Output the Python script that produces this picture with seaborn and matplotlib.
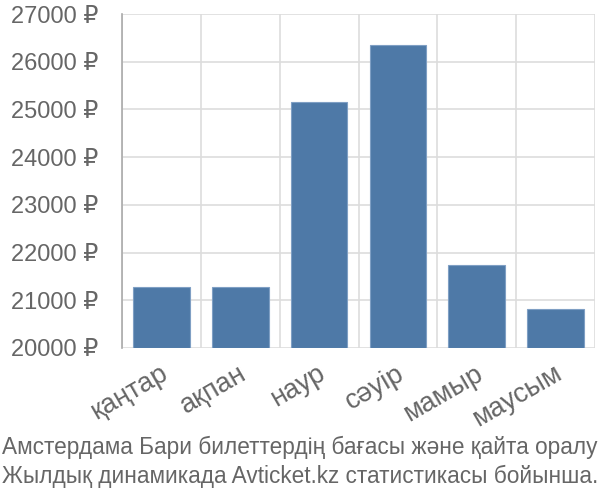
import pandas as pd
import seaborn as sns
import matplotlib.pyplot as plt
import matplotlib.transforms as mtransforms

# Data
months = ["қаңтар", "ақпан", "наур", "сәуір", "мамыр", "маусым"]
prices = [21280, 21280, 25150, 26350, 21740, 20820]
y_ticks = [20000, 21000, 22000, 23000, 24000, 25000, 26000, 27000]
caption_lines = ["Амстердама Бари билеттердің бағасы және қайта оралу",
                 "Жылдық динамикада Avticket.kz статистикасы бойынша."]

base = 20000
df = pd.DataFrame({"month": months, "price": prices})
df["height"] = df["price"] - base

sns.set_style("white")
plt.rcParams["font.family"] = ["Liberation Sans", "DejaVu Sans"]

text_col = "#666666"
grid_col = "#dddddd"
px = 72 / 100  # points per pixel at dpi 100

fig = plt.figure(figsize=(6, 5), dpi=100)
ax = fig.add_axes([122 / 600, 1 - 348 / 500, (595 - 122) / 600, (348 - 14) / 500])

sns.barplot(data=df, x="month", y="height", color="#4e79a7", saturation=1,
            width=0.72, bottom=base, edgecolor="#7f9fc4", linewidth=0.8, ax=ax)

ax.set_ylim(base, 27000)
ax.set_xlim(-0.5, len(months) - 0.5)
ax.set_yticks(y_ticks)
ax.set_yticklabels([f"{v} ₽" for v in y_ticks])
ax.set_xlabel("")
ax.set_ylabel("")

# horizontal grid + tick marks extending left
ax.yaxis.grid(True, color=grid_col, linewidth=1.2)
ax.tick_params(axis="y", length=22 * px, width=1.2, color=grid_col,
               labelsize=17, labelcolor=text_col, pad=1)

# vertical separators between categories, extending below the axis
bounds = [i - 0.5 for i in range(len(months) + 1)]
ax.set_xticks(bounds, minor=True)
ax.xaxis.grid(True, which="minor", color=grid_col, linewidth=1.2)
ax.tick_params(axis="x", which="minor", length=20 * px, width=1.2, color=grid_col)
ax.tick_params(axis="x", which="major", length=0, labelsize=19.5,
               labelcolor=text_col, pad=9)
ax.set_axisbelow(True)

offset = mtransforms.ScaledTranslation(-2 / 100, 0, fig.dpi_scale_trans)
for lbl in ax.get_xticklabels():
    lbl.set_rotation(30)
    lbl.set_ha("right")
    lbl.set_rotation_mode("anchor")
    lbl.set_transform(lbl.get_transform() + offset)

for side in ["top", "right", "bottom"]:
    ax.spines[side].set_visible(False)
ax.spines["left"].set_color("#aaaaaa")
ax.spines["left"].set_linewidth(1.2)

fig.text(0.003, 1 - 447 / 500, caption_lines[0], fontsize=16.3, color=text_col, va="center")
fig.text(0.003, 1 - 476 / 500, caption_lines[1], fontsize=16.3, color=text_col, va="center")

fig.savefig("out.png", dpi=100)
